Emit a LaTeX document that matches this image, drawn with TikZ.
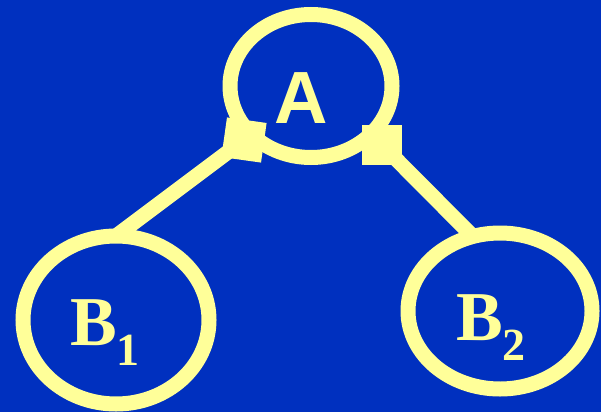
\documentclass[tikz,border=0pt]{standalone}
\usepackage{fontspec}
\setmainfont{Liberation Serif}
\newfontfamily\arialfont{Liberation Sans}
\usetikzlibrary{shapes.geometric}
\definecolor{bgblue}{HTML}{0030BF}
\definecolor{ringyellow}{HTML}{FFFF99}
\begin{document}
\begin{tikzpicture}[x=1pt,y=-1pt,
  ring/.style={ellipse,draw=ringyellow,line width=15pt,inner sep=0pt,outer sep=0pt},
  joint/.style={fill=ringyellow,minimum size=40pt,inner sep=0pt,outer sep=0pt},
  link/.style={draw=ringyellow,line width=15pt},
  lbl/.style={text=ringyellow,inner sep=0pt,outer sep=0pt,anchor=base west}]
\fill[bgblue] (0,0) rectangle (601,412);
\useasboundingbox (0,0) rectangle (601,412);
\node[ring,minimum width=162pt,minimum height=143pt] (A) at (311,86) {};
\node[ring,minimum width=186pt,minimum height=168pt] (B1) at (116,320) {};
\node[ring,minimum width=184pt,minimum height=156pt] (B2) at (500,311) {};
\node[joint,rotate=-8] (s1) at (244,140) {};
\node[joint] (s2) at (382,145) {};
\draw[link] (s1.center) -- (B1.north);
\draw[link] (s2.center) -- (B2.110);
\node[lbl] (tA) at (274,123) {\arialfont\fontsize{74}{74}\selectfont\bfseries A};
\node[lbl] (tB1) at (70,345) {\fontsize{70}{70}\selectfont\bfseries B\raisebox{-20pt}{\fontsize{46}{46}\selectfont 1}};
\node[lbl] (tB2) at (456,340) {\fontsize{70}{70}\selectfont\bfseries B\raisebox{-20pt}{\fontsize{46}{46}\selectfont 2}};
\end{tikzpicture}
\end{document}
